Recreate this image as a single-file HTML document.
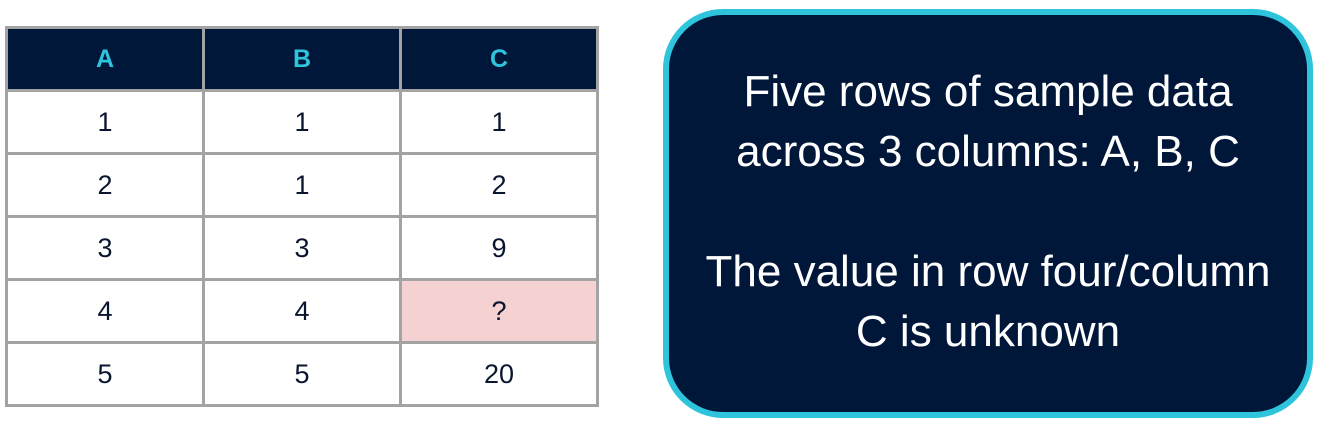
<!DOCTYPE html>
<html><head><style>
body{margin:0;width:1320px;height:426px;background:#fff;position:relative;font-family:"Liberation Sans",Arial,sans-serif;overflow:hidden}
table{position:absolute;left:5px;top:26px;border-collapse:collapse;}
td,th{border:3px solid #a3a3a3;width:194px;text-align:center;padding:0;}
th{height:60px;background:#00173a;color:#2ec4dc;font-size:25px !important;font-weight:bold}
td{height:60px;color:#0a1530;font-size:27px !important}
td.unk{background:#f6d1d1}
.box{position:absolute;left:663px;top:9px;width:638px;height:397px;border:6px solid #2ec4dc;border-radius:60px;background:#00173a;color:#fff;font-size:44px;text-align:center;line-height:60px;box-sizing:content-box}
.box p{margin:0}
</style></head><body>
<table>
<tr><th>A</th><th>B</th><th>C</th></tr>
<tr><td>1</td><td>1</td><td>1</td></tr>
<tr><td>2</td><td>1</td><td>2</td></tr>
<tr><td>3</td><td>3</td><td>9</td></tr>
<tr><td>4</td><td>4</td><td class="unk">?</td></tr>
<tr><td>5</td><td>5</td><td>20</td></tr>
</table>
<div class="box">
<div style="padding-top:47px">
<p>Five rows of sample data<br>across 3 columns: A, B, C</p>
<p style="margin-top:60px">The value in row four/column<br>C is unknown</p>
</div>
</div>
</body></html>
